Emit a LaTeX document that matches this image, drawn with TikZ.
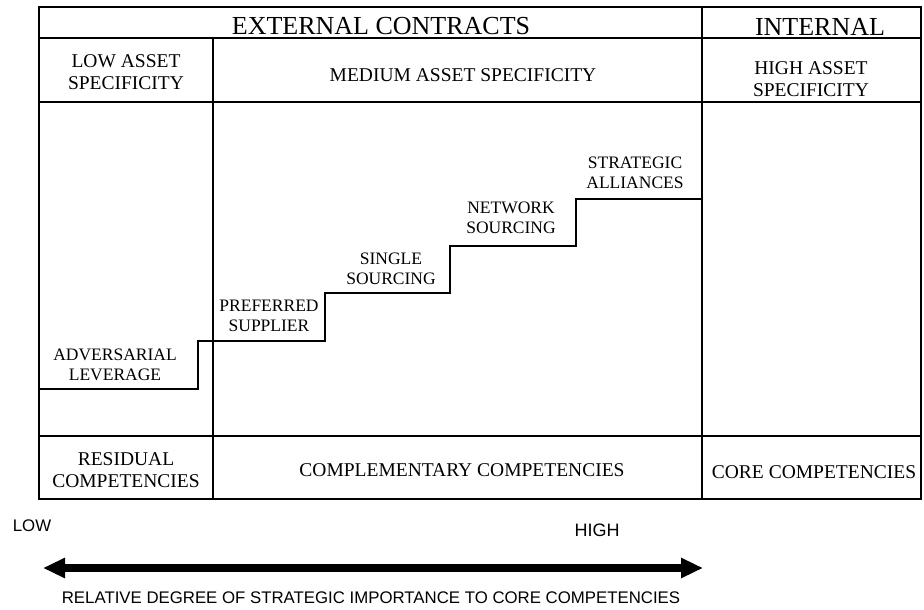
\documentclass[tikz,border=0pt]{standalone}
\usepackage{fontspec}
\setmainfont{Liberation Serif}
\setsansfont{Liberation Sans}
\usetikzlibrary{arrows.meta}
\tikzset{
  hdr/.style={inner sep=0pt, font=\fontsize{26}{30}\selectfont},
  cell/.style={inner sep=0pt, align=center, font=\fontsize{19.5}{22}\selectfont},
  steplbl/.style={inner sep=0pt, align=center, font=\fontsize{17.5}{20}\selectfont},
  axislbl/.style={inner sep=0pt, font=\sffamily\fontsize{16.8}{20}\selectfont},
  gridline/.style={line width=1.8pt, black},
  stairline/.style={line width=1.8pt, black, line join=miter},
  bigarrow/.style={line width=7.5pt, {Triangle[length=22pt,width=19pt]}-{Triangle[length=22pt,width=19pt]}},
}
\begin{document}
\begin{tikzpicture}[x=1pt,y=-1pt]
\useasboundingbox (0,0) rectangle (924,610);
% table frame
\draw[gridline] (39,7) rectangle (921,499);
\draw[gridline] (39,38) -- (921,38);
\draw[gridline] (39,102) -- (921,102);
\draw[gridline] (39,436) -- (921,436);
\draw[gridline] (213,38) -- (213,499);
\draw[gridline] (702,7) -- (702,499);
% staircase
\draw[stairline] (39,389) -- (198,389) -- (198,341) -- (325,341) -- (325,293)
  -- (450,293) -- (450,246) -- (576,246) -- (576,199) -- (702,199);
% headers
\node[hdr] (ext) at (381,26.5) {EXTERNAL CONTRACTS};
\node[hdr] (int) at (820,26.5) {INTERNAL};
% asset specificity row
\node[cell] (lowasset) at (126,72.5) {LOW ASSET\\SPECIFICITY};
\node[cell] (medasset) at (463,75.5) {MEDIUM ASSET SPECIFICITY};
\node[cell] (highasset) at (811,79) {HIGH ASSET\\SPECIFICITY};
% step labels
\node[steplbl] (adv) at (115,365) {ADVERSARIAL\\LEVERAGE};
\node[steplbl] (pref) at (269,315.5) {PREFERRED\\SUPPLIER};
\node[steplbl] (single) at (391,269) {SINGLE\\SOURCING};
\node[steplbl] (network) at (511,218) {NETWORK\\SOURCING};
\node[steplbl] (strategic) at (635,172.5) {STRATEGIC\\ALLIANCES};
% competencies row
\node[cell] (residual) at (126,470) {RESIDUAL\\COMPETENCIES};
\node[cell] (complementary) at (462,470) {COMPLEMENTARY COMPETENCIES};
\node[cell] (core) at (814,472) {CORE COMPETENCIES};
% axis
\node[axislbl] (low) at (32,526) {LOW};
\node[axislbl, font=\sffamily\fontsize{18}{20}\selectfont] (high) at (597,530) {HIGH};
\coordinate (arrL) at (43,568);
\coordinate (arrR) at (703,568);
\draw[bigarrow] (arrL) -- (arrR);
\node[axislbl] (relative) at (371,598) {RELATIVE DEGREE OF STRATEGIC IMPORTANCE TO CORE COMPETENCIES};
\end{tikzpicture}
\end{document}
